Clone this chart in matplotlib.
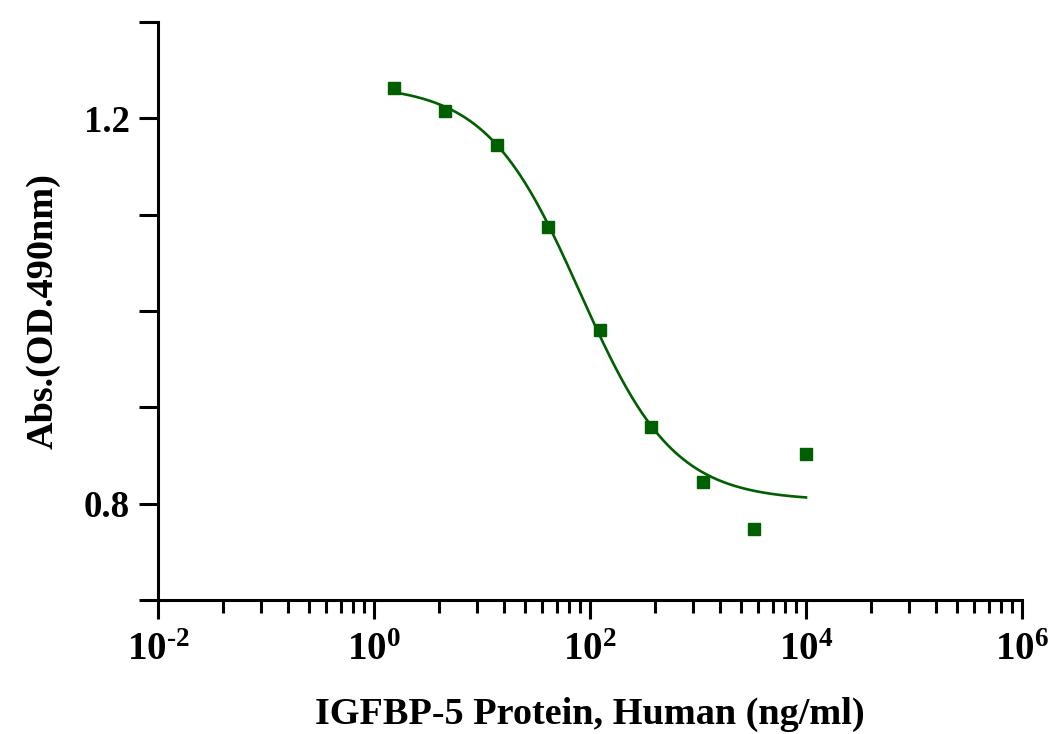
import numpy as np
import matplotlib
matplotlib.use("Agg")
import matplotlib.pyplot as plt

# ---- data ----
conc = [1.52, 4.57, 13.7, 41.2, 123.5, 370.4, 1111.1, 3333.3, 10000.0]
absorb = [1.232, 1.208, 1.172, 1.087, 0.980, 0.880, 0.822, 0.774, 0.852]

# 4PL fit parameters
fit_top = 1.235
fit_bottom = 0.803
fit_ec50 = 81.0
fit_hill = 1.0

x_major = [1e-2, 1e0, 1e2, 1e4, 1e6]
x_major_labels = ["$\\mathbf{10^{\u20102}}$", r"$\mathbf{10^{0}}$", r"$\mathbf{10^{2}}$",
                  r"$\mathbf{10^{4}}$", r"$\mathbf{10^{6}}$"]
y_ticks = [0.7, 0.8, 0.9, 1.0, 1.1, 1.2, 1.3]
y_tick_labels = ["", "0.8", "", "", "", "1.2", ""]

xlabel = "IGFBP-5 Protein, Human (ng/ml)"
ylabel = "Abs.(OD.490nm)"
green = "#005f00"

plt.rcParams["font.family"] = ["Liberation Serif", "DejaVu Serif"]
plt.rcParams["font.weight"] = "bold"
plt.rcParams["mathtext.fontset"] = "custom"
plt.rcParams["mathtext.rm"] = "Liberation Serif:bold"
plt.rcParams["mathtext.bf"] = "Liberation Serif:bold"
plt.rcParams["mathtext.it"] = "Liberation Serif:bold"

fig = plt.figure(figsize=(10.55, 7.34), dpi=100)
ax = fig.add_axes([158/1055, 1-600/734, (1022-158)/1055, (600-22)/734])

ax.set_xscale("log")
ax.set_xlim(1e-2, 1e6)
ax.set_ylim(0.7, 1.3)

xc = np.logspace(np.log10(conc[0]), np.log10(conc[-1]), 300)
yc = fit_bottom + (fit_top - fit_bottom) / (1 + (xc / fit_ec50) ** fit_hill)
ax.plot(xc, yc, color=green, lw=1.9, zorder=2)
ax.plot(conc, absorb, linestyle="none", marker="s", markersize=8.8,
        color=green, zorder=3, clip_on=False)

ax.set_xticks(x_major)
ax.set_xticklabels(x_major_labels)
minor = []
for e in range(-2, 6, 2):
    for k in range(2, 10):
        minor.append(10 ** (e + 2 * np.log10(k)))
ax.set_xticks(minor, minor=True)
ax.set_xticklabels([], minor=True)

ax.set_yticks(y_ticks)
ax.set_yticklabels(y_tick_labels)

for s in ["top", "right"]:
    ax.spines[s].set_visible(False)
for s in ["left", "bottom"]:
    ax.spines[s].set_linewidth(2.2)

ax.tick_params(axis="both", which="major", length=14, width=2.2,
               labelsize=26.5, pad=6)
ax.tick_params(axis="x", which="minor", length=9, width=2.2)
ax.tick_params(axis="x", which="major", pad=9, labelsize=28)

ax.set_xlabel(xlabel, fontsize=27.5, fontweight="bold", labelpad=20)
ax.set_ylabel(ylabel, fontsize=27.5, fontweight="bold", labelpad=17)

fig.savefig("out.png", dpi=100)
